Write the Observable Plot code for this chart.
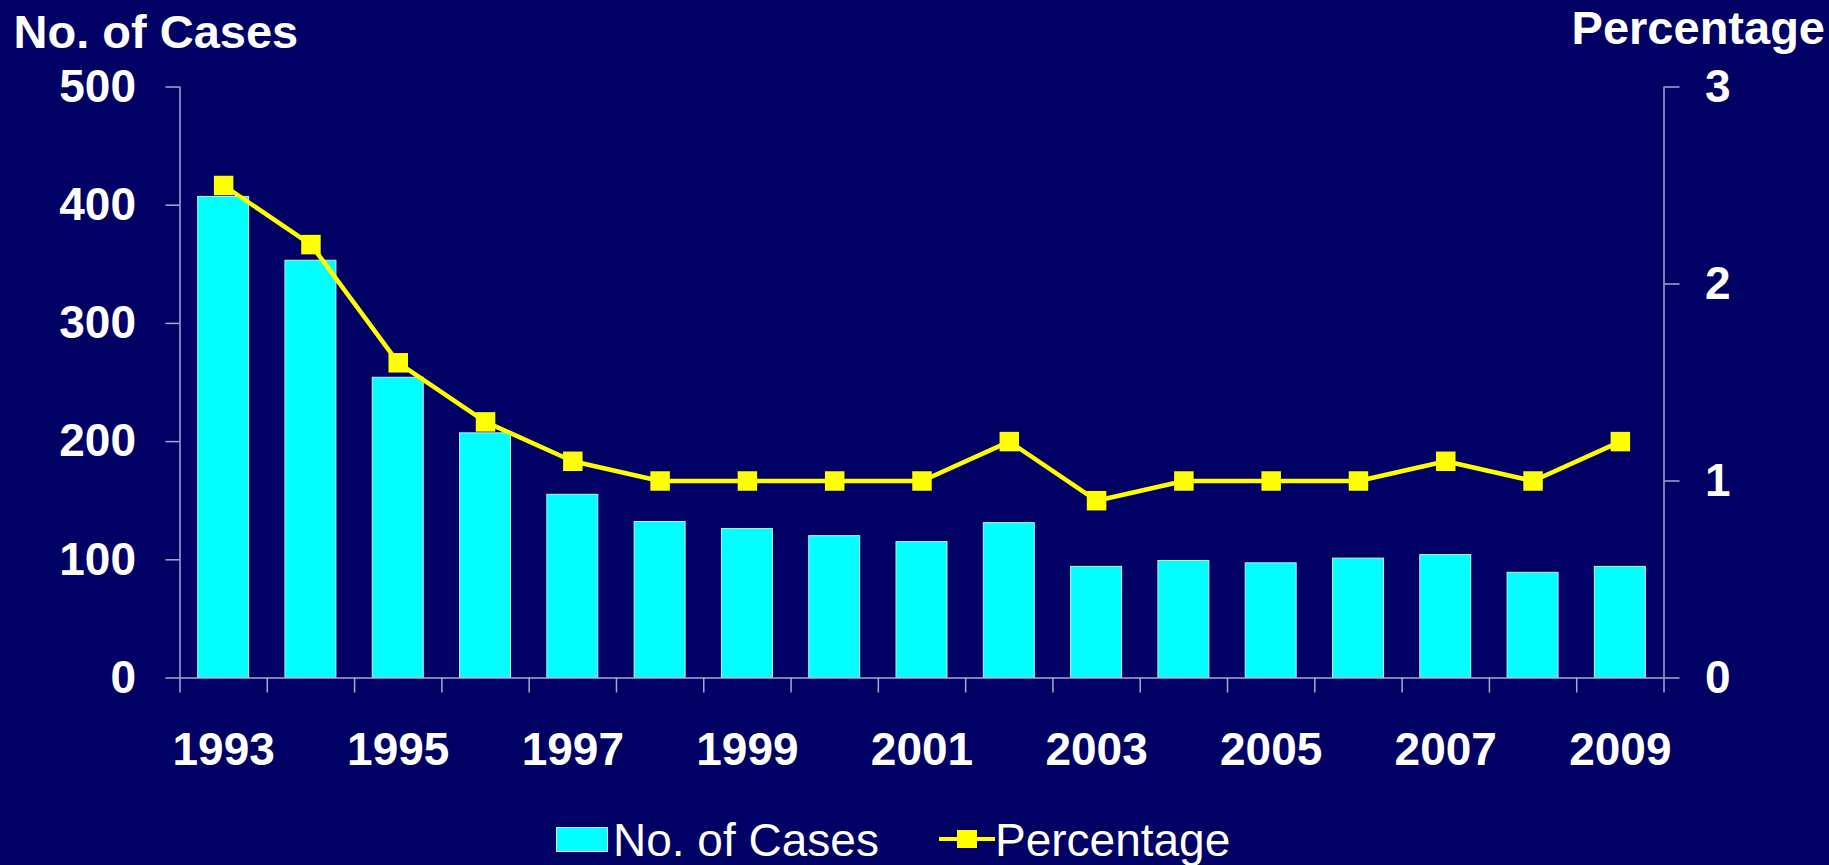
<!DOCTYPE html>
<html>
<head>
<meta charset="utf-8">
<script src="https://cdn.jsdelivr.net/npm/d3@7"></script>
<script src="https://cdn.jsdelivr.net/npm/@observablehq/plot@0.6"></script>
<style>
  html, body { margin: 0; padding: 0; background: #010064; }
  body { width: 1829px; height: 865px; overflow: hidden; font-family: "Liberation Sans", Arial, sans-serif; }
  #chart svg { display: block; }
  #legend { position: relative; width: 1829px; height: 60px; color: white; }
  #legend .sw { position: absolute; left: 556px; top: 22px; width: 50px; height: 23px; background: #00ffff; border: 1px solid #c8e8ff; }
  #legend .lbl { position: absolute; top: 11.5px; font-size: 46px; line-height: 1; white-space: nowrap; }
  #legend svg { position: absolute; left: 939px; top: 24px; }
</style>
</head>
<body>
<div id="chart"></div>
<div id="legend"></div>
<script>
// ---- data ----
const years = [1993, 1994, 1995, 1996, 1997, 1998, 1999, 2000, 2001, 2002, 2003, 2004, 2005, 2006, 2007, 2008, 2009];
const cases = [407, 353, 254, 207, 155, 132, 126, 120, 115, 131, 94, 99, 97, 101, 104, 89, 94];
const percentage = [2.5, 2.2, 1.6, 1.3, 1.1, 1.0, 1.0, 1.0, 1.0, 1.2, 0.9, 1.0, 1.0, 1.0, 1.1, 1.0, 1.2];
const leftTicks = [0, 100, 200, 300, 400, 500];
const rightTicks = [0, 1, 2, 3];
const xLabelYears = [1993, 1995, 1997, 1999, 2001, 2003, 2005, 2007, 2009];
const leftTitle = "No. of Cases";
const rightTitle = "Percentage";

// ---- build ----
const casesMax = leftTicks[leftTicks.length - 1];
const pctMax = rightTicks[rightTicks.length - 1];
const k = casesMax / pctMax;
const data = years.map((year, i) => ({year, cases: cases[i], pct: percentage[i]}));
const boundaries = [years[0] - 0.5, ...years.map(y => y + 0.5)];
const halfBar = 0.292;
const axisColor = "#a9a9cf";
const font = "Liberation Sans, Arial, sans-serif";

const chart = Plot.plot({
  width: 1829,
  height: 805,
  marginLeft: 179.5,
  marginRight: 165.5,
  marginTop: 86.5,
  marginBottom: 127.5,
  style: {background: "transparent", color: "white", fontFamily: font, fontSize: "46px"},
  x: {type: "linear", domain: [boundaries[0], boundaries[boundaries.length - 1]]},
  y: {domain: [0, casesMax]},
  marks: [
    Plot.rectY(data, {x1: d => d.year - halfBar, x2: d => d.year + halfBar, y: "cases", fill: "#00ffff", stroke: "#c8ecff", strokeWidth: 1}),
    Plot.ruleX([boundaries[0], boundaries[boundaries.length - 1]], {y1: 0, y2: casesMax, stroke: axisColor, strokeWidth: 1.5}),
    Plot.ruleY([0], {stroke: axisColor, strokeWidth: 1.5}),
    Plot.axisY({anchor: "left", ticks: leftTicks, tickSize: 14, tickPadding: 30, label: null,
      stroke: axisColor, strokeWidth: 1.5, fill: "white", fontWeight: "bold", fontSize: 46}),
    Plot.axisY({anchor: "right", ticks: rightTicks.map(t => t * k), tickFormat: d => String(Math.round(d / k)),
      tickSize: 15, tickPadding: 26, label: null, stroke: axisColor, strokeWidth: 1.5, fill: "white", fontWeight: "bold", fontSize: 46}),
    Plot.axisX({ticks: boundaries, tickSize: 15, tickFormat: () => "", label: null, stroke: axisColor, strokeWidth: 1.5}),
    Plot.axisX({ticks: xLabelYears, tickSize: 0, tickPadding: 54, tickFormat: d => String(d), label: null,
      fill: "white", fontWeight: "bold", fontSize: 46}),
    Plot.line(data, {x: "year", y: d => d.pct * k, stroke: "#ffff00", strokeWidth: 4.5}),
    Plot.dot(data, {x: "year", y: d => d.pct * k, symbol: "square", r: 11, fill: "#ffff00", stroke: "none"}),
    Plot.text([leftTitle], {text: d => d, frameAnchor: "top-left", textAnchor: "start", lineAnchor: "middle",
      dx: -166.5, dy: -54.5, fontSize: 47, fontWeight: "bold", fill: "white"}),
    Plot.text([rightTitle], {text: d => d, frameAnchor: "top-right", textAnchor: "end", lineAnchor: "middle",
      dx: 161, dy: -58.5, fontSize: 47, fontWeight: "bold", fill: "white"})
  ]
});
document.getElementById("chart").appendChild(chart);

// ---- legend ----
const legend = document.getElementById("legend");
legend.innerHTML = `
  <div class="sw"></div>
  <div class="lbl" style="left:613px">${leftTitle}</div>
  <svg width="56" height="20" viewBox="0 0 56 20">
    <line x1="0" y1="10" x2="56" y2="10" stroke="#ffff00" stroke-width="4"/>
    <rect x="18" y="1" width="20" height="18" fill="#ffff00"/>
  </svg>
  <div class="lbl" style="left:995px">${rightTitle}</div>`;
</script>
</body>
</html>
